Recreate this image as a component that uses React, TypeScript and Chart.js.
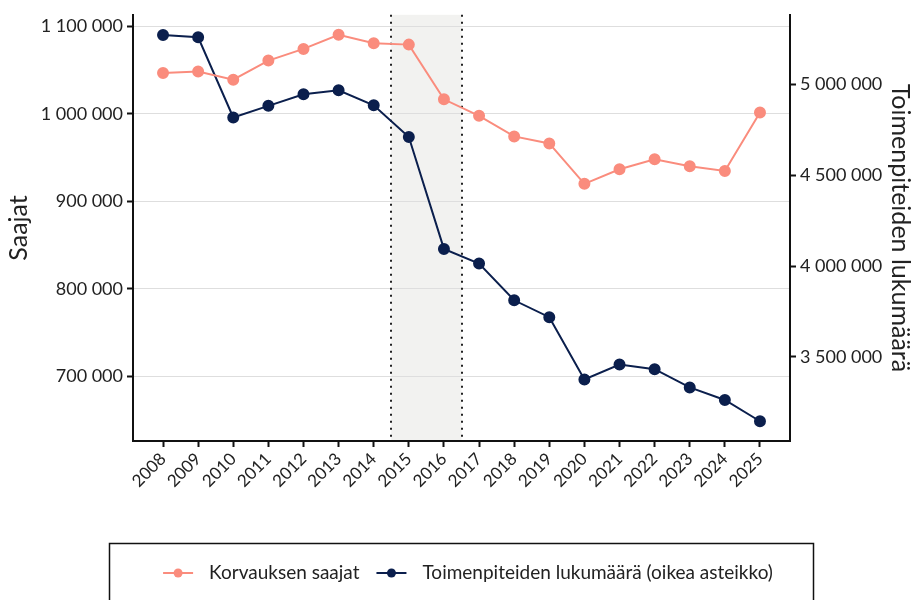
import React, { useEffect, useRef } from "react";
import { Chart, registerables } from "chart.js";

Chart.register(...registerables);

const years = [2008, 2009, 2010, 2011, 2012, 2013, 2014, 2015, 2016, 2017, 2018, 2019, 2020, 2021, 2022, 2023, 2024, 2025];
const korvauksenSaajat = [1046600, 1048400, 1039000, 1060900, 1074200, 1090400, 1080700, 1079100, 1016600, 997700, 974200, 966200, 920000, 936700, 948000, 940100, 934800, 1001500];
const toimenpiteet = [5271900, 5259300, 4817800, 4881800, 4945300, 4967200, 4885100, 4710100, 4094100, 4013600, 3811300, 3718300, 3375300, 3457400, 3432000, 3331500, 3262400, 3145400];
const leftTicks = [700000, 800000, 900000, 1000000, 1100000];
const rightTicks = [3500000, 4000000, 4500000, 5000000];
const bandStart = 2014.5;
const bandEnd = 2016.5;
const seriesLabels = ["Korvauksen saajat", "Toimenpiteiden lukumäärä (oikea asteikko)"];

const PINK = "#fa8c7d";
const NAVY = "#0b1f4d";
const FONT = "Lato, 'Open Sans', sans-serif";

const fmt = (v: number) => String(Math.round(v)).replace(/\B(?=(\d{3})+(?!\d))/g, " ");

export default function App() {
  const ref = useRef<HTMLCanvasElement | null>(null);
  useEffect(() => {
    const canvas = ref.current;
    if (!canvas) return;

    const bandPlugin = {
      id: "band",
      beforeDraw(chart: any) {
        const { ctx, chartArea, scales } = chart;
        const x0 = scales.x.getPixelForValue(bandStart);
        const x1 = scales.x.getPixelForValue(bandEnd);
        ctx.save();
        ctx.fillStyle = "#f2f2f0";
        ctx.fillRect(x0, chartArea.top, x1 - x0, chartArea.bottom - chartArea.top);
        ctx.restore();
      },
      beforeDatasetsDraw(chart: any) {
        const { ctx, chartArea, scales } = chart;
        ctx.save();
        ctx.strokeStyle = "#222";
        ctx.lineWidth = 2;
        ctx.setLineDash([2, 5]);
        [bandStart, bandEnd].forEach((v) => {
          const x = Math.round(scales.x.getPixelForValue(v));
          ctx.beginPath();
          ctx.moveTo(x, chartArea.top);
          ctx.lineTo(x, chartArea.bottom);
          ctx.stroke();
        });
        ctx.restore();
      },
    };

    const legendPlugin = {
      id: "boxLegend",
      afterDraw(chart: any) {
        const ctx = chart.ctx;
        ctx.save();
        ctx.strokeStyle = "#111";
        ctx.lineWidth = 1.5;
        ctx.strokeRect(109.5, 543.5, 704, 80);
        ctx.font = `19px ${FONT}`;
        ctx.textBaseline = "middle";
        ctx.fillStyle = "#222";
        const colors = [PINK, NAVY];
        const marker = 30, gap = 16, between = 17;
        const widths = seriesLabels.map((l) => ctx.measureText(l).width);
        const total = widths.reduce((a, b) => a + b, 0) + 2 * (marker + gap) + between;
        let x = 468 - total / 2;
        const y = 573;
        seriesLabels.forEach((l, i) => {
          ctx.strokeStyle = colors[i];
          ctx.lineWidth = 2;
          ctx.beginPath();
          ctx.moveTo(x, y);
          ctx.lineTo(x + marker, y);
          ctx.stroke();
          ctx.fillStyle = colors[i];
          ctx.beginPath();
          ctx.arc(x + marker / 2, y, 4.5, 0, Math.PI * 2);
          ctx.fill();
          ctx.fillStyle = "#222";
          ctx.fillText(l, x + marker + gap, y);
          x += marker + gap + widths[i] + between;
        });
        ctx.restore();
      },
    };

    const chart = new Chart(canvas, {
      type: "line",
      data: {
        datasets: [
          {
            label: seriesLabels[0],
            data: years.map((yr, i) => ({ x: yr, y: korvauksenSaajat[i] })),
            borderColor: PINK,
            backgroundColor: PINK,
            pointBackgroundColor: PINK,
            pointBorderColor: PINK,
            borderWidth: 2,
            pointRadius: 5,
            yAxisID: "y",
          },
          {
            label: seriesLabels[1],
            data: years.map((yr, i) => ({ x: yr, y: toimenpiteet[i] })),
            borderColor: NAVY,
            backgroundColor: NAVY,
            pointBackgroundColor: NAVY,
            pointBorderColor: NAVY,
            borderWidth: 2,
            pointRadius: 5,
            yAxisID: "y1",
          },
        ],
      },
      options: {
        responsive: false,
        animation: false,
        layout: { padding: { top: 12, left: 0, right: 0, bottom: 0 } },
        plugins: { legend: { display: false }, tooltip: { enabled: false } },
        scales: {
          x: {
            type: "linear",
            min: 2007.145,
            max: 2025.855,
            afterBuildTicks: (s: any) => { s.ticks = years.map((v) => ({ value: v })); },
            afterFit: (s: any) => { s.height = 159; },
            ticks: {
              minRotation: 45,
              maxRotation: 45,
              color: "#222",
              font: { family: FONT, size: 17 },
              padding: 2,
              callback: (v: any) => String(v),
            },
            grid: { drawOnChartArea: false, drawTicks: true, tickLength: 6, tickColor: "#111", tickWidth: 2 },
            border: { display: true, color: "#111", width: 2 },
          },
          y: {
            position: "left",
            min: 626136,
            max: 1113182,
            afterBuildTicks: (s: any) => { s.ticks = leftTicks.map((v) => ({ value: v })); },
            afterFit: (s: any) => { s.width = 133; },
            ticks: { color: "#222", font: { family: FONT, size: 18 }, padding: 4, callback: (v: any) => fmt(v) },
            grid: { color: "#dedede", lineWidth: 1, drawTicks: true, tickLength: 6, tickColor: "#111", tickWidth: 2 },
            border: { display: true, color: "#111", width: 2 },
            title: { display: true, text: "Saajat", color: "#222", font: { family: FONT, size: 25 }, padding: { top: 4, bottom: 0 } },
          },
          y1: {
            position: "right",
            min: 3036652,
            max: 5382932,
            afterBuildTicks: (s: any) => { s.ticks = rightTicks.map((v) => ({ value: v })); },
            afterFit: (s: any) => { s.width = 125; },
            ticks: { color: "#222", font: { family: FONT, size: 18 }, padding: 4, callback: (v: any) => fmt(v) },
            grid: { drawOnChartArea: false, drawTicks: true, tickLength: 6, tickColor: "#111", tickWidth: 2 },
            border: { display: true, color: "#111", width: 2 },
            title: { display: true, text: "Toimenpiteiden lukumäärä", color: "#222", font: { family: FONT, size: 25 }, padding: { top: 0, bottom: 0 } },
          },
        },
      } as any,
      plugins: [bandPlugin, legendPlugin],
    });
    return () => chart.destroy();
  }, []);

  return (
    <div style={{ position: "absolute", left: 0, top: 0, width: 915, height: 600, background: "#fff" }}>
      <canvas ref={ref} width={915} height={600} style={{ display: "block" }} />
    </div>
  );
}
